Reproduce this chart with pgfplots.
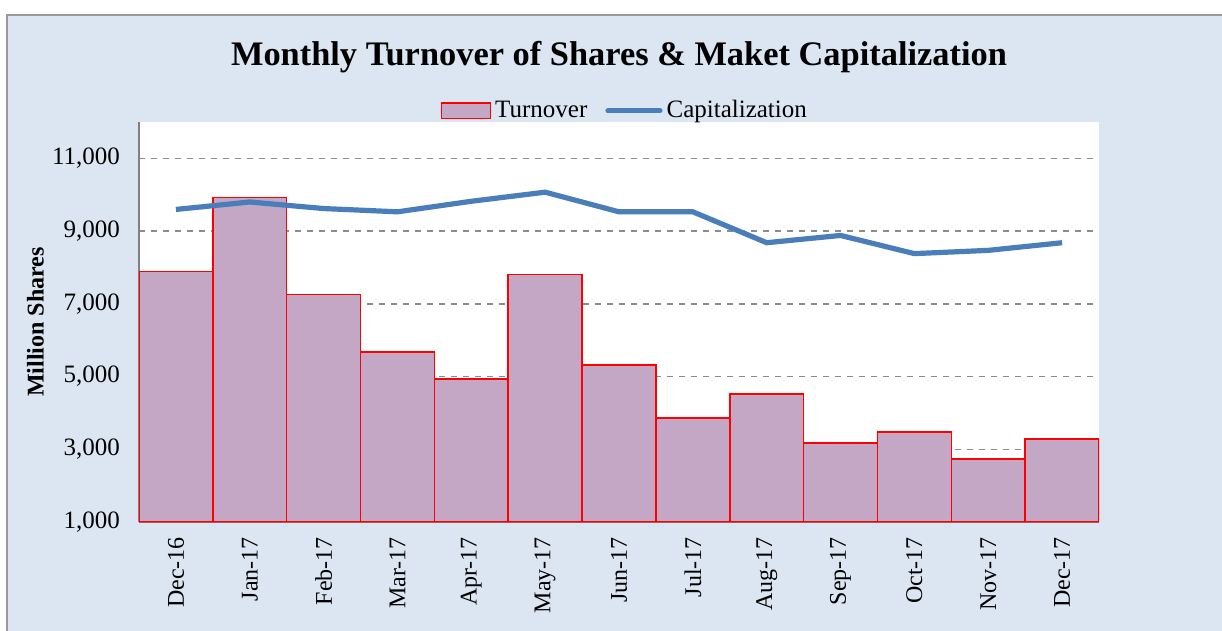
\documentclass[border=0pt]{standalone}
\usepackage{pgfplots}
\pgfplotsset{compat=1.18}
\usepackage{fontspec}
\setmainfont{Liberation Serif}
\definecolor{bgblue}{HTML}{DCE6F2}
\definecolor{barfill}{HTML}{C4A7C5}
\definecolor{linblue}{HTML}{4A7EBB}
\definecolor{gridgray}{HTML}{8C8C8C}
\pgfplotsset{
  barleg/.style={legend image code/.code={\draw[##1] (0pt,-3.8pt) rectangle (24.5pt,3.8pt);}},
  lineleg/.style={legend image code/.code={\draw[##1, line cap=round] (0pt,0pt) -- (26pt,0pt);}},
}
\begin{document}
\begin{tikzpicture}[x=1pt,y=1pt]
\useasboundingbox (0,0) rectangle (611,315.5);
\fill[white] (0,0) rectangle (611,315.5);
\fill[bgblue] (3.5,0) rectangle (611,308);
\draw[gray!80, line width=1pt] (3.5,-2) -- (3.5,308) -- (615,308);
\node[font=\bfseries\fontsize{17.2}{20}\selectfont] at (309.5,287) {Monthly Turnover of Shares \& Maket Capitalization};
\begin{axis}[
  at={(69.5pt,54.5pt)}, anchor=south west,
  scale only axis, width=480pt, height=200pt,
  xmin=-0.5, xmax=12.5, ymin=1000, ymax=12000,
  axis background/.style={fill=white},
  xtick={0,...,12},
  xticklabels={Dec-16,Jan-17,Feb-17,Mar-17,Apr-17,May-17,Jun-17,Jul-17,Aug-17,Sep-17,Oct-17,Nov-17,Dec-17},
  xticklabel style={rotate=90, anchor=east, font=\fontsize{12}{14}\selectfont, xshift=-4pt},
  ytick={1000,3000,5000,7000,9000,11000},
  scaled y ticks=false,
  yticklabel style={font=\fontsize{12.5}{14}\selectfont, xshift=-6pt},
  /pgf/number format/.cd, fixed, 1000 sep={,}, assume math mode=true, /pgfplots/.cd,
  major tick length=0pt,
  ymajorgrids, grid style={dashed, gridgray, line width=0.7pt},
  axis x line*=bottom, axis y line*=left,
  x axis line style={-, draw=gray!70!red, line width=0.6pt},
  y axis line style={-, draw=gray, line width=0.7pt},
  ylabel={Million Shares},
  ylabel style={at={(axis description cs:-0.108,0.5)}, anchor=center, font=\bfseries\fontsize{12}{14}\selectfont},
  legend columns=2,
  legend style={at={(axis description cs:0.507,1.028)}, anchor=center, draw=none, fill=none,
    font=\fontsize{12.5}{14}\selectfont, /tikz/every even column/.append style={column sep=7pt}},
]
\addplot[ybar, bar width=1, fill=barfill, draw=red, line width=0.8pt, barleg]
coordinates {
(0,7887) (1,9926) (2,7253) (3,5683) (4,4939) (5,7804) (6,5325)
(7,3865) (8,4526) (9,3176) (10,3479) (11,2736) (12,3287)};
\addlegendentry{Turnover}
\addplot[linblue, line width=2.6pt, mark=none, lineleg]
coordinates {
(0,9595) (1,9800) (2,9620) (3,9530) (4,9820) (5,10070) (6,9530)
(7,9530) (8,8680) (9,8880) (10,8380) (11,8470) (12,8680)};
\addlegendentry{Capitalization}
\end{axis}
\end{tikzpicture}
\end{document}
